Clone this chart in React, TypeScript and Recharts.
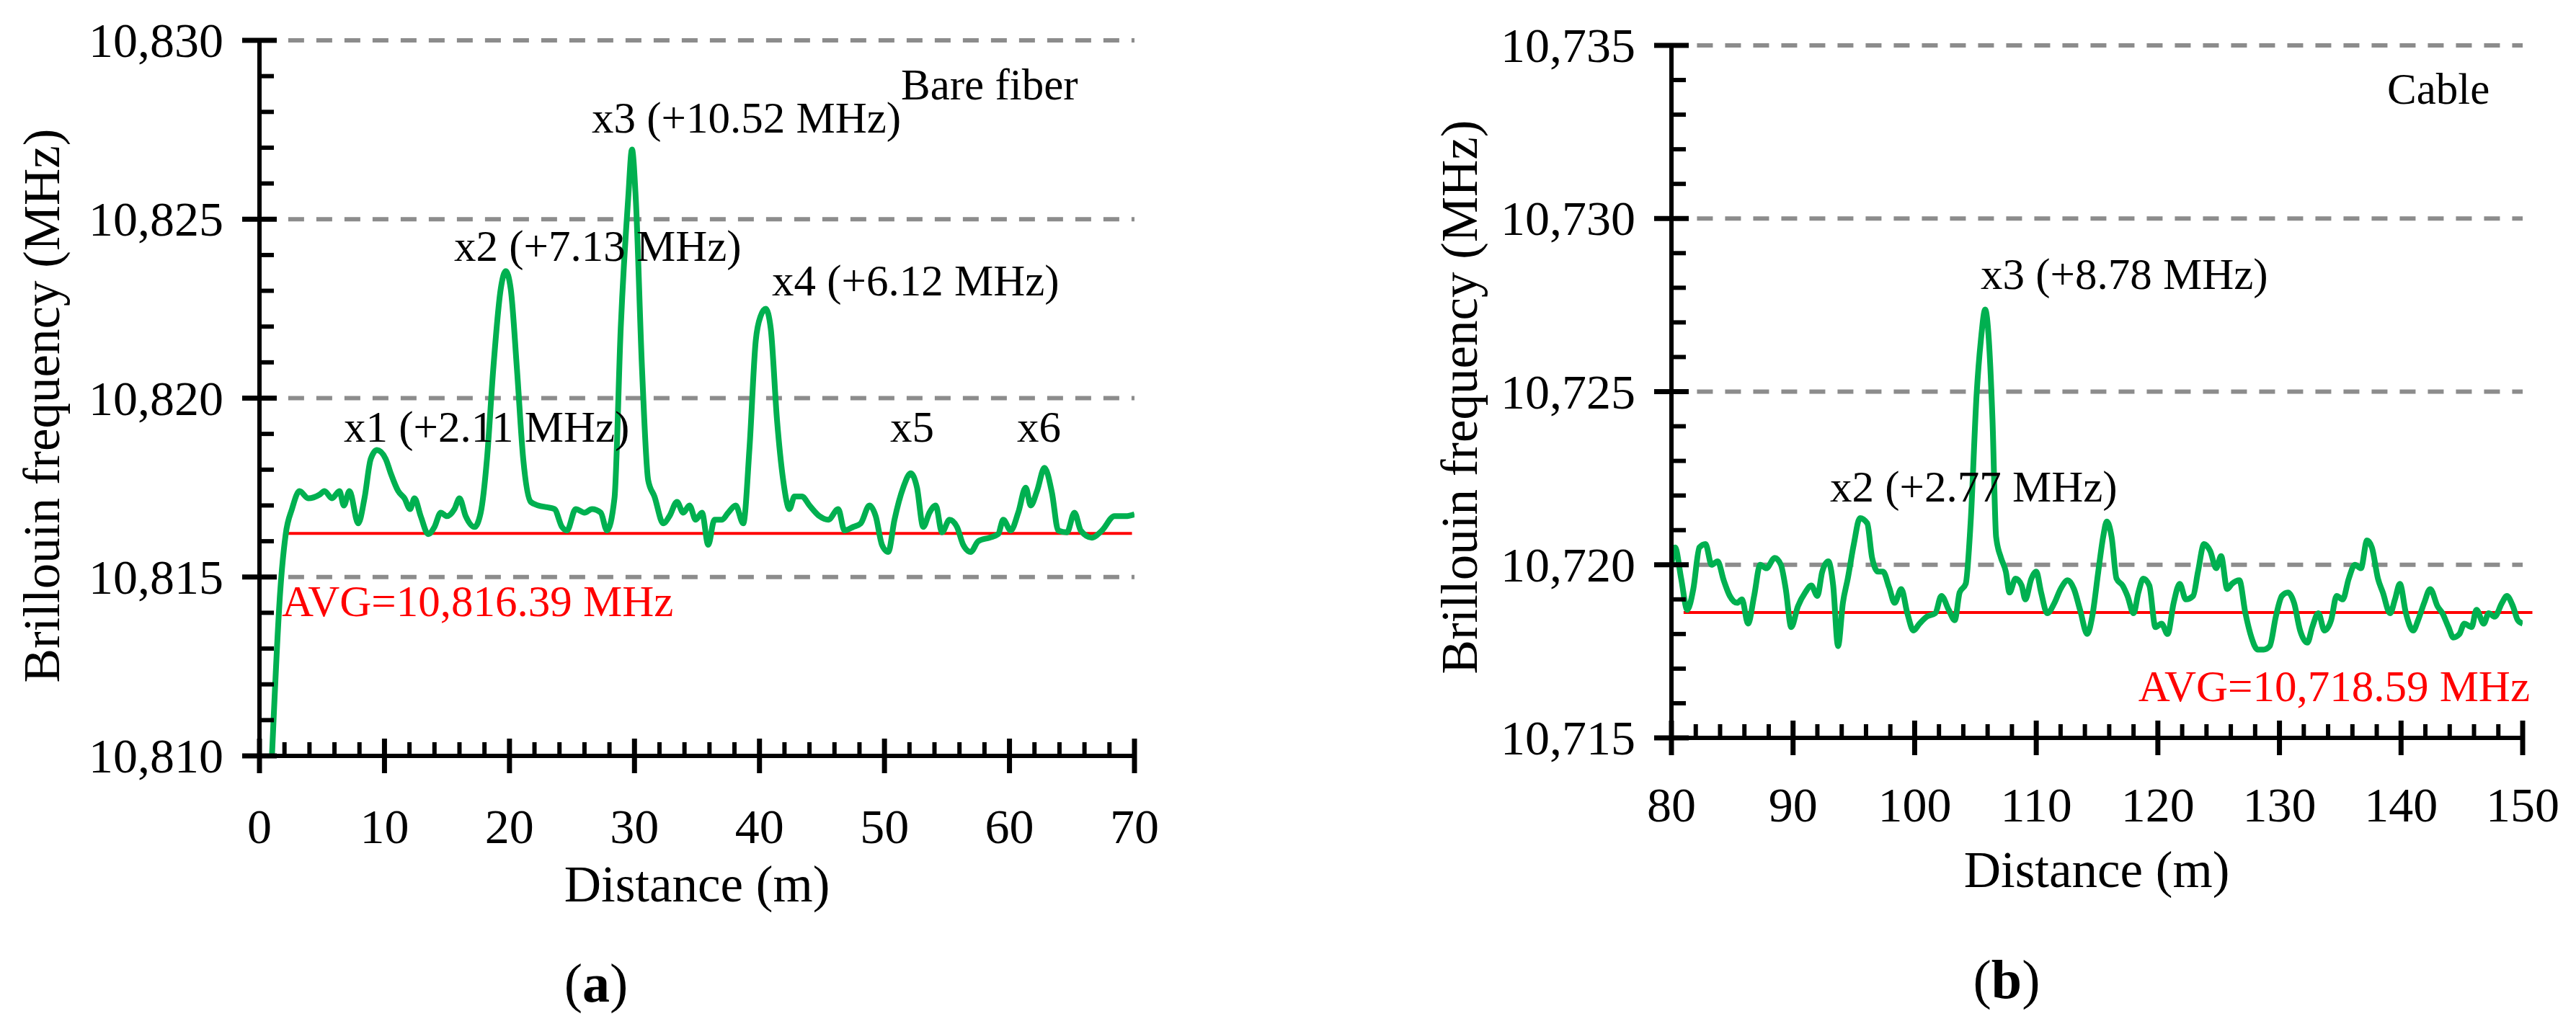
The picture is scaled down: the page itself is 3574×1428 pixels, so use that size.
import React from 'react';
import { LineChart, Line, XAxis, YAxis, ReferenceLine } from 'recharts';

// ---------- Panel (a): bare fiber ----------
const leftDistance = [
  1.0, 1.66, 2.1, 2.6, 3.2, 3.9, 4.8, 5.2, 5.8, 6.4, 6.75, 7.2, 7.9, 8.4, 8.9, 9.4, 10.1, 10.5, 11.1, 11.6,
  12.05, 12.4, 12.9, 13.5, 14.0, 14.5, 15.0, 15.6, 16.0, 16.5, 17.2, 17.7, 18.2, 18.7, 19.3, 19.7, 20.1, 20.6,
  21.1, 21.7, 22.3, 23.0, 23.6, 24.2, 24.6, 25.3, 26.0, 26.6, 27.3, 27.8, 28.4, 28.9, 29.5, 29.8, 30.1, 30.6,
  31.1, 31.6, 32.3, 32.8, 33.4, 33.9, 34.4, 34.9, 35.4, 35.9, 36.4, 37.0, 37.5, 38.1, 38.7, 39.2, 39.7, 40.1,
  40.5, 40.9, 41.4, 41.9, 42.4, 42.8, 43.4, 44.0, 44.8, 45.5, 46.3, 46.8, 47.5, 48.1, 48.8, 49.3, 49.8, 50.3,
  50.8, 51.5, 52.1, 52.6, 53.1, 53.6, 54.1, 54.6, 55.2, 55.8, 56.3, 56.9, 57.5, 58.4, 59.1, 59.5, 60.1, 60.7,
  61.3, 61.7, 62.2, 62.8, 63.4, 63.9, 64.6, 65.2, 65.7, 66.6, 67.4, 68.4, 69.3, 70.0,
];
const leftFreq = [
  10810.0, 10814.6, 10816.2, 10816.9, 10817.4, 10817.2, 10817.3, 10817.4, 10817.2, 10817.4, 10817.0, 10817.4,
  10816.5, 10817.2, 10818.3, 10818.55, 10818.3, 10817.9, 10817.4, 10817.2, 10816.9, 10817.2, 10816.7, 10816.2,
  10816.4, 10816.8, 10816.7, 10816.9, 10817.2, 10816.7, 10816.4, 10816.8, 10818.3, 10820.8, 10823.05, 10823.55,
  10823.05, 10820.8, 10818.3, 10817.1, 10817.0, 10816.95, 10816.9, 10816.4, 10816.3, 10816.9, 10816.8, 10816.9,
  10816.8, 10816.3, 10817.2, 10821.95, 10825.6, 10826.95, 10825.6, 10820.85, 10817.7, 10817.25, 10816.5,
  10816.7, 10817.1, 10816.8, 10817.0, 10816.6, 10816.8, 10815.9, 10816.6, 10816.6, 10816.8, 10817.0, 10816.5,
  10818.6, 10821.6, 10822.3, 10822.5, 10821.95, 10819.4, 10817.7, 10816.9, 10817.25, 10817.25, 10817.0,
  10816.7, 10816.6, 10816.9, 10816.3, 10816.4, 10816.5, 10817.0, 10816.7, 10815.9, 10815.7, 10816.6, 10817.5,
  10817.9, 10817.5, 10816.4, 10816.8, 10817.0, 10816.25, 10816.6, 10816.4, 10815.9, 10815.7, 10816.0, 10816.1,
  10816.2, 10816.6, 10816.3, 10816.8, 10817.5, 10817.0, 10817.4, 10818.05, 10817.35, 10816.3, 10816.25,
  10816.8, 10816.3, 10816.1, 10816.3, 10816.7, 10816.7, 10816.75,
];
const leftXTicks = [0, 2, 4, 6, 8, 10, 12, 14, 16, 18, 20, 22, 24, 26, 28, 30, 32, 34, 36, 38, 40, 42, 44, 46, 48, 50, 52, 54, 56, 58, 60, 62, 64, 66, 68, 70];
const leftYTicks = [10810, 10811, 10812, 10813, 10814, 10815, 10816, 10817, 10818, 10819, 10820, 10821, 10822, 10823, 10824, 10825, 10826, 10827, 10828, 10829, 10830];
const leftGrid = [10815, 10820, 10825, 10830];
const leftAvgLevel = 10816.22;
const leftAvgText = 'AVG=10,816.39 MHz';

// ---------- Panel (b): cable ----------
const rightDistance = [
  80.0, 80.3, 80.8, 81.3, 81.8, 82.3, 82.8, 83.3, 83.8, 84.3, 84.8, 85.4, 85.8, 86.3, 86.8, 87.3, 87.8, 88.5,
  89.0, 89.4, 89.85, 90.4, 91.0, 91.5, 92.0, 92.4, 92.9, 93.3, 93.7, 94.1, 94.5, 95.0, 95.5, 96.1, 96.5, 97.0,
  97.4, 97.9, 98.35, 98.9, 99.4, 99.9, 100.4, 101.0, 101.7, 102.2, 102.8, 103.3, 103.7, 104.2, 104.6, 105.1,
  105.45, 105.8, 106.1, 106.4, 106.7, 107.1, 107.5, 107.8, 108.3, 108.8, 109.1, 109.6, 110.0, 110.4, 110.9,
  111.5, 112.0, 112.6, 113.1, 113.6, 114.2, 114.6, 115.1, 115.5, 115.8, 116.2, 116.6, 117.1, 117.5, 118.0,
  118.4, 118.8, 119.3, 119.8, 120.3, 120.8, 121.3, 121.8, 122.3, 122.9, 123.3, 123.8, 124.3, 124.8, 125.2,
  125.7, 126.1, 126.7, 127.2, 127.7, 128.2, 128.7, 129.2, 129.7, 130.2, 130.7, 131.2, 131.7, 132.3, 132.7,
  133.2, 133.7, 134.25, 134.7, 135.2, 135.7, 136.2, 136.7, 137.2, 137.6, 138.1, 138.5, 139.1, 139.5, 139.9,
  140.4, 141.0, 141.4, 141.9, 142.4, 143.0, 143.4, 143.9, 144.3, 144.8, 145.2, 145.8, 146.2, 146.8, 147.2,
  147.7, 148.3, 148.7, 149.2, 149.6, 150.0,
];
const rightFreq = [
  10720.0, 10720.5, 10719.6, 10718.7, 10719.3, 10720.5, 10720.6, 10720.0, 10720.1, 10719.55, 10719.1, 10718.9,
  10719.0, 10718.3, 10719.1, 10720.0, 10719.9, 10720.2, 10720.0, 10719.3, 10718.2, 10718.8, 10719.2, 10719.4,
  10719.1, 10719.8, 10720.1, 10719.4, 10717.65, 10718.9, 10719.6, 10720.6, 10721.35, 10721.2, 10720.2, 10719.8,
  10719.8, 10719.35, 10718.9, 10719.3, 10718.6, 10718.1, 10718.3, 10718.5, 10718.6, 10719.1, 10718.7, 10718.4,
  10719.2, 10719.45, 10721.2, 10724.95, 10726.5, 10727.37, 10726.5, 10724.2, 10720.8, 10720.2, 10719.8,
  10719.2, 10719.6, 10719.4, 10719.0, 10719.6, 10719.8, 10719.2, 10718.6, 10718.9, 10719.3, 10719.55, 10719.3,
  10718.7, 10718.0, 10718.5, 10719.8, 10720.8, 10721.25, 10720.8, 10719.6, 10719.4, 10719.1, 10718.6, 10719.2,
  10719.6, 10719.4, 10718.2, 10718.3, 10718.0, 10718.9, 10719.45, 10719.0, 10719.1, 10719.8, 10720.6, 10720.4,
  10719.9, 10720.25, 10719.3, 10719.45, 10719.55, 10718.6, 10717.9, 10717.55, 10717.55, 10717.65, 10718.5,
  10719.1, 10719.2, 10718.9, 10718.1, 10717.75, 10718.2, 10718.6, 10718.1, 10718.4, 10719.1, 10719.0, 10719.6,
  10720.0, 10719.9, 10720.7, 10720.5, 10719.6, 10719.2, 10718.6, 10719.0, 10719.45, 10718.6, 10718.1, 10718.4,
  10718.9, 10719.3, 10718.8, 10718.6, 10718.2, 10717.9, 10718.0, 10718.3, 10718.2, 10718.7, 10718.3, 10718.6,
  10718.5, 10718.9, 10719.1, 10718.8, 10718.4, 10718.3,
];
const rightXTicks = [80, 82, 84, 86, 88, 90, 92, 94, 96, 98, 100, 102, 104, 106, 108, 110, 112, 114, 116, 118, 120, 122, 124, 126, 128, 130, 132, 134, 136, 138, 140, 142, 144, 146, 148, 150];
const rightYTicks = [10715, 10716, 10717, 10718, 10719, 10720, 10721, 10722, 10723, 10724, 10725, 10726, 10727, 10728, 10729, 10730, 10731, 10732, 10733, 10734, 10735];
const rightGrid = [10720, 10725, 10730, 10735];
const rightAvgLevel = 10718.62;
const rightAvgText = 'AVG=10,718.59 MHz';

const leftData = leftDistance.map((d, i) => ({ d, f: leftFreq[i] }));
const rightData = rightDistance.map((d, i) => ({ d, f: rightFreq[i] }));

const FONT = '"Liberation Serif", "Times New Roman", serif';
const GREEN = '#00b050';
const GRID = '#8c8c8c';

const fmt = (v: number) => v.toLocaleString('en-US');

function makeYTick(minV: number) {
  return (props: any) => {
    const { x, y, payload } = props;
    const v = payload.value as number;
    const major = Math.round(v - minV) % 5 === 0;
    return (
      <g>
        {major ? (
          <line x1={x - 24} x2={x + 24} y1={y} y2={y} stroke="#000" strokeWidth={7} />
        ) : (
          <line x1={x} x2={x + 20} y1={y} y2={y} stroke="#000" strokeWidth={6} />
        )}
        {major && (
          <text x={x - 50} y={y} dy="0.34em" textAnchor="end" fontFamily={FONT} fontSize={68} fill="#000">
            {fmt(v)}
          </text>
        )}
      </g>
    );
  };
}

function makeXTick(minV: number, labelOffset: number) {
  return (props: any) => {
    const { x, y, payload } = props;
    const v = payload.value as number;
    const major = Math.round(v - minV) % 10 === 0;
    return (
      <g>
        {major ? (
          <line x1={x} x2={x} y1={y - 24} y2={y + 24} stroke="#000" strokeWidth={7} />
        ) : (
          <line x1={x} x2={x} y1={y - 19} y2={y} stroke="#000" strokeWidth={6} />
        )}
        {major && (
          <text x={x} y={y + labelOffset} textAnchor="middle" fontFamily={FONT} fontSize={68} fill="#000">
            {String(v)}
          </text>
        )}
      </g>
    );
  };
}

const LeftYTick = makeYTick(10810);
const LeftXTick = makeXTick(0, 121);
const RightYTick = makeYTick(10715);
const RightXTick = makeXTick(80, 116);

const AXIS_LINE = { stroke: '#000', strokeWidth: 6 };

export default function App() {
  return (
    <div style={{ position: 'absolute', left: 0, top: 0, width: 3574, height: 1428, background: '#fff' }}>
      <div style={{ position: 'absolute', left: 0, top: 0 }}>
        <LineChart
          width={1700}
          height={1428}
          data={leftData}
          margin={{ top: 56, right: 126, bottom: 279, left: 160 }}
        >
          <XAxis
            dataKey="d"
            type="number"
            domain={[0, 70]}
            ticks={leftXTicks}
            interval={0}
            height={100}
            tickSize={0}
            tickMargin={0}
            tickLine={false}
            axisLine={AXIS_LINE}
            tick={LeftXTick}
            allowDataOverflow
          />
          <YAxis
            type="number"
            domain={[10810, 10830]}
            ticks={leftYTicks}
            interval={0}
            width={200}
            tickSize={0}
            tickMargin={0}
            tickLine={false}
            axisLine={AXIS_LINE}
            tick={LeftYTick}
            allowDataOverflow
          />
          {leftGrid.map((g) => (
            <ReferenceLine
              key={g}
              segment={[{ x: 2.3, y: g }, { x: 70, y: g }]}
              stroke={GRID}
              strokeWidth={6}
              strokeDasharray="22 17"
              ifOverflow="visible"
            />
          ))}
          <ReferenceLine
            segment={[{ x: 1.96, y: leftAvgLevel }, { x: 69.8, y: leftAvgLevel }]}
            stroke="#ff0000"
            strokeWidth={4}
            ifOverflow="visible"
          />
          <Line type="monotone" dataKey="f" stroke={GREEN} strokeWidth={8} dot={false} isAnimationActive={false} />
        </LineChart>
      </div>
      <div style={{ position: 'absolute', left: 1800, top: 0 }}>
        <LineChart
          width={1774}
          height={1428}
          data={rightData}
          margin={{ top: 63, right: 74, bottom: 304, left: 319 }}
        >
          <XAxis
            dataKey="d"
            type="number"
            domain={[80, 150]}
            ticks={rightXTicks}
            interval={0}
            height={100}
            tickSize={0}
            tickMargin={0}
            tickLine={false}
            axisLine={AXIS_LINE}
            tick={RightXTick}
            allowDataOverflow
          />
          <YAxis
            type="number"
            domain={[10715, 10735]}
            ticks={rightYTicks}
            interval={0}
            width={200}
            tickSize={0}
            tickMargin={0}
            tickLine={false}
            axisLine={AXIS_LINE}
            tick={RightYTick}
            allowDataOverflow
          />
          {rightGrid.map((g) => (
            <ReferenceLine
              key={g}
              segment={[{ x: 82.1, y: g }, { x: 150, y: g }]}
              stroke={GRID}
              strokeWidth={6}
              strokeDasharray="22 17"
              ifOverflow="visible"
            />
          ))}
          <ReferenceLine
            segment={[{ x: 81.0, y: rightAvgLevel }, { x: 150.8, y: rightAvgLevel }]}
            stroke="#ff0000"
            strokeWidth={4}
            ifOverflow="visible"
          />
          <Line type="monotone" dataKey="f" stroke={GREEN} strokeWidth={8} dot={false} isAnimationActive={false} />
        </LineChart>
      </div>
      <svg
        width={3574}
        height={1428}
        style={{ position: 'absolute', left: 0, top: 0, pointerEvents: 'none' }}
        fontFamily={FONT}
      >
        {/* panel (a) */}
        <text x={82} y={563} transform="rotate(-90 82 563)" textAnchor="middle" fontSize={71} fill="#000">
          Brillouin frequency (MHz)
        </text>
        <text x={967} y={1251} textAnchor="middle" fontSize={71} fill="#000">Distance (m)</text>
        <text x={827} y={1390} textAnchor="middle" fontSize={76} fill="#000">
          (<tspan fontWeight="bold">a</tspan>)
        </text>
        <text x={1250} y={138} fontSize={61} fill="#000">Bare fiber</text>
        <text x={821} y={184} fontSize={61} fill="#000">x3 (+10.52 MHz)</text>
        <text x={630} y={362} fontSize={61} fill="#000">x2 (+7.13 MHz)</text>
        <text x={1071} y={410} fontSize={61} fill="#000">x4 (+6.12 MHz)</text>
        <text x={477} y={613} fontSize={61} fill="#000">x1 (+2.11 MHz)</text>
        <text x={1235} y={613} fontSize={61} fill="#000">x5</text>
        <text x={1411} y={613} fontSize={61} fill="#000">x6</text>
        <text x={391} y={855} fontSize={61} fill="#ff0000">{leftAvgText}</text>
        {/* panel (b) */}
        <text x={2049} y={551} transform="rotate(-90 2049 551)" textAnchor="middle" fontSize={71} fill="#000">
          Brillouin frequency (MHz)
        </text>
        <text x={2909} y={1231} textAnchor="middle" fontSize={71} fill="#000">Distance (m)</text>
        <text x={2784} y={1385} textAnchor="middle" fontSize={76} fill="#000">
          (<tspan fontWeight="bold">b</tspan>)
        </text>
        <text x={3312} y={144} fontSize={61} fill="#000">Cable</text>
        <text x={2748} y={401} fontSize={61} fill="#000">x3 (+8.78 MHz)</text>
        <text x={2539} y={696} fontSize={61} fill="#000">x2 (+2.77 MHz)</text>
        <text x={3510} y={973} textAnchor="end" fontSize={61} fill="#ff0000">{rightAvgText}</text>
      </svg>
    </div>
  );
}
